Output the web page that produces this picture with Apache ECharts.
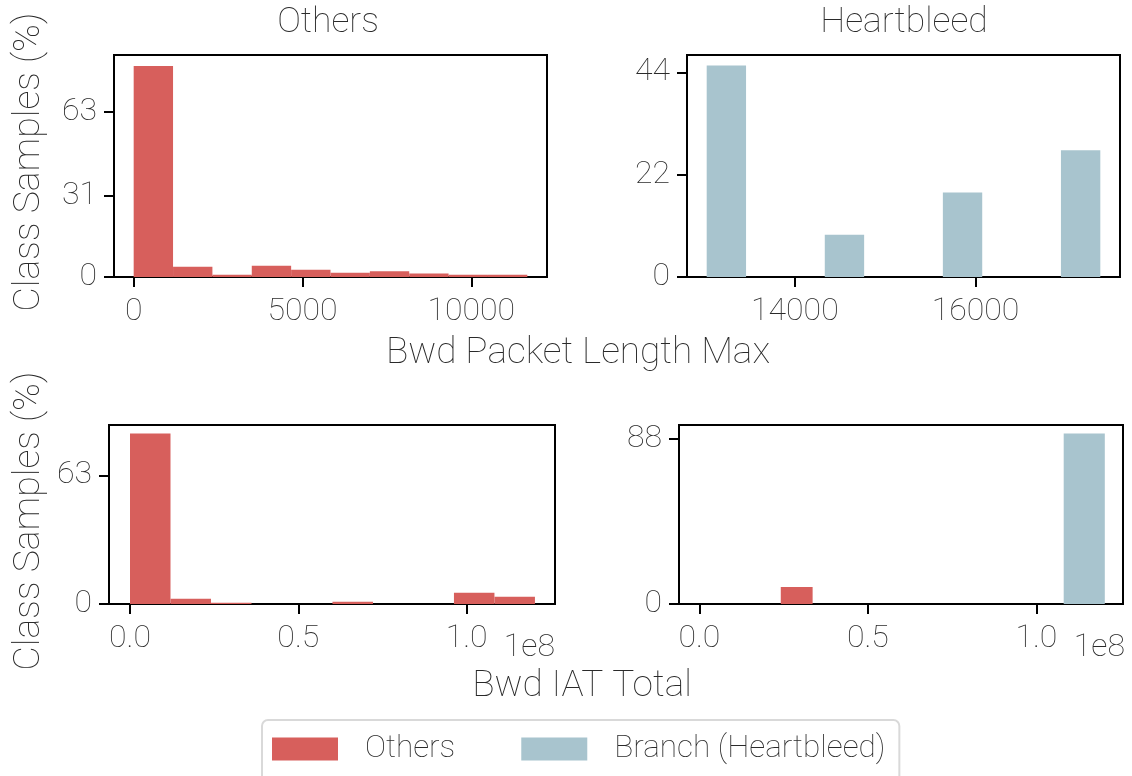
<!DOCTYPE html>
<html><head><meta charset="utf-8">
<script src="https://cdn.jsdelivr.net/npm/echarts@6/dist/echarts.min.js"></script>
<style>html,body{margin:0;padding:0;background:#fff}#c{width:1132px;height:776px}</style>
</head><body><div id="c"></div>
<script>
// ---------- data ----------
const panelTitles = ['Others', 'Heartbleed'];
const xNames = ['Bwd Packet Length Max', 'Bwd IAT Total'];
const yName = 'Class Samples (%)';
const seriesNames = ['Others', 'Branch (Heartbleed)'];
const offsetText = '1e8';

// top-left: Others class, Bwd Packet Length Max (10 bins)
const pktOthersStart = 0;
const pktOthersBin = 1166;
const pktOthersPct = [80.4, 3.9, 0.9, 4.3, 2.8, 1.6, 2.2, 1.3, 0.9, 0.9];

// top-right: Heartbleed class, Bwd Packet Length Max (10 bins)
const pktHeartStart = 13024;
const pktHeartBin = 435.7;
const pktHeartPct = [45.45, 0, 0, 9.09, 0, 0, 18.18, 0, 0, 27.27];

// bottom-left: Others class, Bwd IAT Total (10 bins)
const iatOthersStart = 0;
const iatOthersBin = 0.1203e8;
const iatOthersPct = [83.4, 2.6, 0.65, 0, 0, 1.1, 0, 0, 5.5, 3.6];

// bottom-right: Heartbleed panel, Bwd IAT Total
const iatHeartOthersEdges = [0.2415e8, 0.336e8];
const iatHeartOthersPct = [9.09];
const iatHeartBranchEdges = [1.081e8, 1.203e8];
const iatHeartBranchPct = [90.91];

// ticks
const tlXTicks = [0, 5000, 10000];
const tlYTicks = [0, 31, 63];
const trXTicks = [14000, 16000];
const trYTicks = [0, 22, 44];
const bXTicks = [0, 0.5e8, 1e8];
const bXTickLabels = ['0.0', '0.5', '1.0'];
const blYTicks = [0, 63];
const brYTicks = [0, 88];

// ---------- build ----------
const RED = '#d75f5c', BLUE = '#a8c4ce';
const FONT = 'Roboto';
const FW = 100;
const TXT = '#2a2a2a';

function bins(start, width, pcts) {
  const out = [];
  pcts.forEach((h, i) => { if (h > 0) out.push([start + i * width, start + (i + 1) * width, h]); });
  return out;
}
function edgesBins(edges, pcts) {
  return pcts.map((h, i) => [edges[i], edges[i + 1], h]);
}
function renderBar(params, api) {
  const p0 = api.coord([api.value(0), api.value(2)]);
  const p1 = api.coord([api.value(1), 0]);
  return { type: 'rect', shape: { x: p0[0], y: p0[1], width: p1[0] - p0[0], height: p1[1] - p0[1] },
           style: { fill: api.visual('color') } };
}
const grids = [
  { left: 114, top: 55, width: 433, height: 222 },
  { left: 687, top: 55, width: 433, height: 222 },
  { left: 109, top: 425, width: 446, height: 179 },
  { left: 679, top: 425, width: 444, height: 179 }
].map(g => Object.assign(g, { show: true, borderColor: '#000', borderWidth: 2, backgroundColor: 'transparent' }));

function xAx(i, min, max, ticks, labels) {
  return {
    type: 'value', gridIndex: i, min: min, max: max,
    splitLine: { show: false },
    axisLine: { show: true, onZero: false, lineStyle: { color: '#000', width: 2 } },
    axisTick: { show: true, length: 10, lineStyle: { color: '#000', width: 2 }, customValues: ticks },
    axisLabel: { show: true, customValues: ticks, margin: 19, fontFamily: FONT, fontWeight: FW, fontSize: 32, color: TXT,
                 formatter: v => { const k = ticks.indexOf(v); return labels ? labels[k] : String(v); } }
  };
}
function yAx(i, max, ticks) {
  return {
    type: 'value', gridIndex: i, min: 0, max: max,
    splitLine: { show: false },
    axisLine: { show: true, onZero: false, lineStyle: { color: '#000', width: 2 } },
    axisTick: { show: true, length: 10, lineStyle: { color: '#000', width: 2 }, customValues: ticks },
    axisLabel: { show: true, customValues: ticks, margin: 17, fontFamily: FONT, fontWeight: FW, fontSize: 32, color: TXT }
  };
}
function ser(name, color, idx, data) {
  return { type: 'custom', name: name, xAxisIndex: idx, yAxisIndex: idx, itemStyle: { color: color },
           renderItem: renderBar, encode: { x: [0, 1], y: 2 }, data: data, silent: true };
}
function txt(text, x, y, size, opts) {
  return Object.assign({ type: 'text', x: x, y: y, silent: true,
    style: { text: text, fontFamily: FONT, fontWeight: FW, fontSize: size, fill: TXT, align: 'center', verticalAlign: 'middle' } }, opts || {});
}

const option = {
  animation: false,
  backgroundColor: '#fff',
  grid: grids,
  xAxis: [
    xAx(0, -583, 12243, tlXTicks),
    xAx(1, 12806, 17599, trXTicks),
    xAx(2, -0.0624e8, 1.2626e8, bXTicks, bXTickLabels),
    xAx(3, -0.0605e8, 1.257e8, bXTicks, bXTickLabels)
  ],
  yAxis: [
    yAx(0, 84.6, tlYTicks),
    yAx(1, 47.73, trYTicks),
    yAx(2, 87.6, blYTicks),
    yAx(3, 95.45, brYTicks)
  ],
  legend: {
    data: seriesNames, left: 262, top: 720, orient: 'horizontal',
    icon: 'rect', itemWidth: 66, itemHeight: 23, itemGap: 66,
    padding: [13, 14, 40, 10],
    borderColor: '#d9d9d9', borderWidth: 2, borderRadius: 6,
    textStyle: { fontFamily: FONT, fontWeight: FW, fontSize: 31.5, color: TXT, padding: [0, 0, 0, 22] }
  },
  series: [
    ser(seriesNames[0], RED, 0, bins(pktOthersStart, pktOthersBin, pktOthersPct)),
    ser(seriesNames[1], BLUE, 1, bins(pktHeartStart, pktHeartBin, pktHeartPct)),
    ser(seriesNames[0], RED, 2, bins(iatOthersStart, iatOthersBin, iatOthersPct)),
    ser(seriesNames[0], RED, 3, edgesBins(iatHeartOthersEdges, iatHeartOthersPct)),
    ser(seriesNames[1], BLUE, 3, edgesBins(iatHeartBranchEdges, iatHeartBranchPct))
  ],
  graphic: [
    txt(panelTitles[0], 328, 23, 35.5),
    txt(panelTitles[1], 904, 23, 35.5),
    txt(xNames[0], 578, 354, 37),
    txt(xNames[1], 582, 687, 37),
    txt(yName, 30, 162, 37.5, { rotation: Math.PI / 2 }),
    txt(yName, 30, 521, 37.5, { rotation: Math.PI / 2 }),
    txt(offsetText, 555, 648, 32, { style: { text: offsetText, fontFamily: FONT, fontWeight: FW, fontSize: 32, fill: TXT, align: 'right', verticalAlign: 'middle' } }),
    txt(offsetText, 1125, 648, 32, { style: { text: offsetText, fontFamily: FONT, fontWeight: FW, fontSize: 32, fill: TXT, align: 'right', verticalAlign: 'middle' } })
  ]
};
const chart = echarts.init(document.getElementById('c'), null, { renderer: 'canvas' });
chart.setOption(option);
</script>
</body></html>
